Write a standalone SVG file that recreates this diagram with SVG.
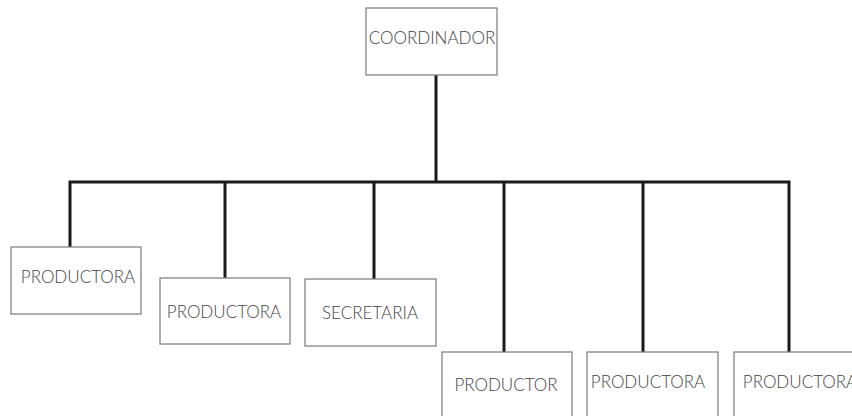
<svg xmlns="http://www.w3.org/2000/svg" width="852" height="416" viewBox="0 0 852 416">
<style>
.box{fill:#fff;stroke:#7a7a7a;stroke-width:1.2}
.lbl{font-family:Lato,"Liberation Sans",sans-serif;font-weight:300;font-size:17px;fill:#444;text-anchor:middle}
.ln{fill:none;stroke:#1a1a1a;stroke-width:3;stroke-linecap:square}
</style>
<rect width="852" height="416" fill="#fff"/>
<g id="connectors">
<path class="ln" d="M436 76V182M70 182H789M70 182V247M225 182V278M374 182V279M504 182V352M643 182V352M789 182V352"/>
</g>
<g id="coordinador"><rect class="box" x="366" y="8" width="131" height="67"/><text class="lbl" x="432" y="44">COORDINADOR</text></g>
<g id="productora1"><rect class="box" x="11" y="247" width="130" height="67"/><text class="lbl" x="78" y="283">PRODUCTORA</text></g>
<g id="productora2"><rect class="box" x="160" y="278" width="130" height="66"/><text class="lbl" x="224" y="318">PRODUCTORA</text></g>
<g id="secretaria"><rect class="box" x="305" y="279" width="131" height="67"/><text class="lbl" x="370" y="319">SECRETARIA</text></g>
<g id="productor"><rect class="box" x="442" y="352" width="130" height="70"/><text class="lbl" x="506" y="391">PRODUCTOR</text></g>
<g id="productora3"><rect class="box" x="587" y="352" width="131" height="70"/><text class="lbl" x="648" y="388">PRODUCTORA</text></g>
<g id="productora4"><rect class="box" x="734" y="352" width="130" height="70"/><text class="lbl" x="800" y="388">PRODUCTORA</text></g>
</svg>
